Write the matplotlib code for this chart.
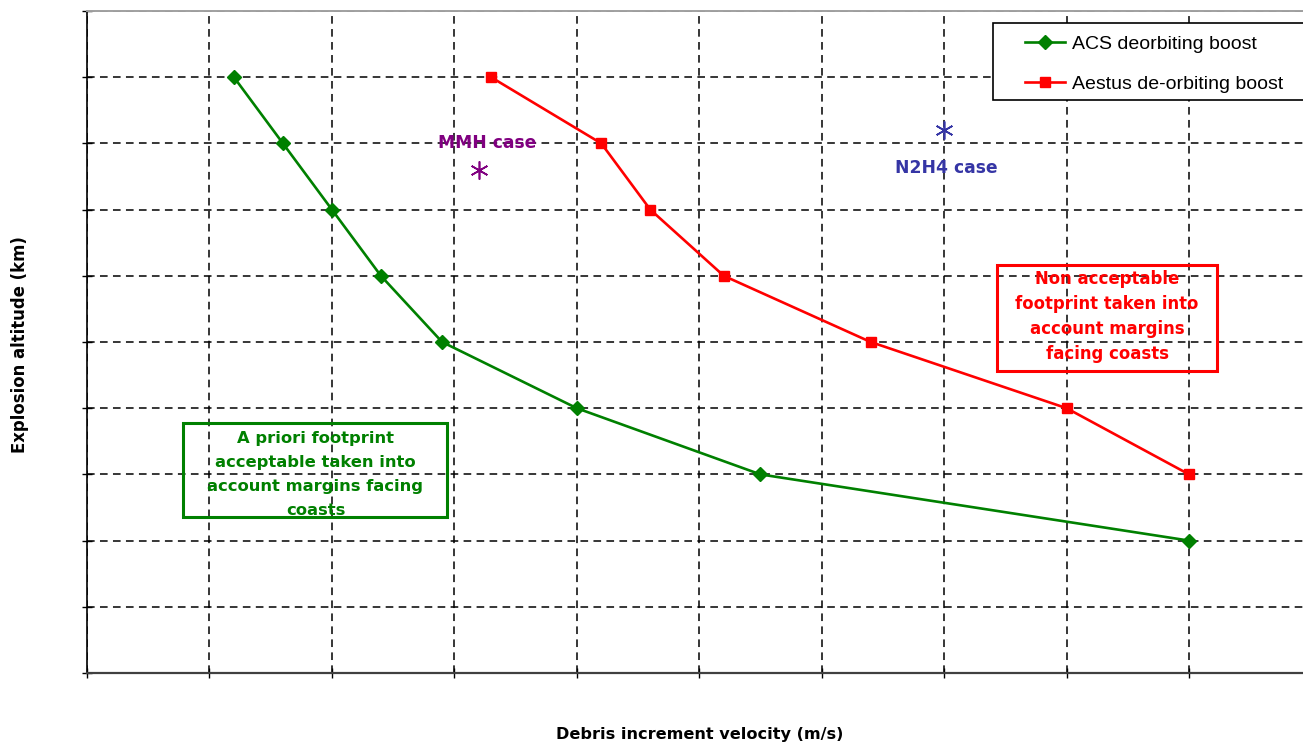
import matplotlib
matplotlib.use("Agg")
import matplotlib.pyplot as plt
from matplotlib.patches import Rectangle

plt.rcParams['font.family'] = ['Liberation Sans', 'DejaVu Sans']

# Data (grid units: no tick labels on original)
acs_x = [1.2, 1.6, 2.0, 2.4, 2.9, 4.0, 5.5, 9.0]
acs_y = [9, 8, 7, 6, 5, 4, 3, 2]
aestus_x = [3.3, 4.2, 4.6, 5.2, 6.4, 8.0, 9.0]
aestus_y = [9, 8, 7, 6, 5, 4, 3]
mmh_x, mmh_y = [3.2], [7.6]
n2h4_x, n2h4_y = [7.0], [8.2]
series_labels = ["ACS deorbiting boost", "Aestus de-orbiting boost"]
x_label = "Debris increment velocity (m/s)"
y_label = "Explosion altitude (km)"

GREEN = '#008000'
RED = '#ff0000'
PURPLE = '#800080'
BLUE = '#3535a5'
BOLDFONT = ['DejaVu Sans']

W, H = 1303, 743
fig = plt.figure(figsize=(W / 100, H / 100), dpi=100)
ax = fig.add_axes([87 / W, (H - 673) / H, 1224.5 / W, 662 / H])
ax.set_xlim(0, 10)
ax.set_ylim(0, 10)
ax.set_xticks(range(0, 11))
ax.set_yticks(range(0, 11))
ax.set_xticklabels([])
ax.set_yticklabels([])
ax.tick_params(axis='both', direction='inout', length=7, width=1, color='black')
ax.grid(True, color='black', linestyle=(0, (5, 3.5)), linewidth=1.1)
ax.set_axisbelow(True)
ax.spines['top'].set_color('#a0a0a0')
ax.spines['top'].set_linewidth(1.4)
ax.spines['left'].set_color('black')
ax.spines['left'].set_linewidth(1.2)
ax.spines['bottom'].set_color('#404040')
ax.spines['bottom'].set_linewidth(1.6)
ax.spines['right'].set_visible(False)

l1, = ax.plot(acs_x, acs_y, color=GREEN, lw=1.9, marker='D', markersize=7.5,
              label=series_labels[0], zorder=3)
l2, = ax.plot(aestus_x, aestus_y, color=RED, lw=1.9, marker='s', markersize=7,
              label=series_labels[1], zorder=3)

ax.plot(mmh_x, mmh_y, linestyle='none', marker=(6, 2, 0), markersize=13,
        markeredgewidth=1.2, color=PURPLE, zorder=3)
ax.plot(n2h4_x, n2h4_y, linestyle='none', marker=(6, 2, 0), markersize=13,
        markeredgewidth=1.2, color=BLUE, zorder=3)
ax.text(3.265, 8.0, "MMH case", color=PURPLE, fontsize=12.3, fontweight='bold',
        family=BOLDFONT, ha='center', va='center', zorder=4)
ax.text(7.02, 7.63, "N2H4 case", color=BLUE, fontsize=12.3, fontweight='bold',
        family=BOLDFONT, ha='center', va='center', zorder=4)

# Annotation boxes
ax.add_patch(Rectangle((0.786, 2.357), 2.152, 1.419, fill=False,
                       edgecolor=GREEN, lw=2.2, zorder=4))
ax.text(1.866, 3.0, "A priori footprint\nacceptable taken into\naccount margins facing\ncoasts",
        color=GREEN, fontsize=11.8, fontweight='bold', family=BOLDFONT,
        ha='center', va='center', linespacing=1.75, zorder=5)
ax.add_patch(Rectangle((7.43, 4.562), 1.80, 1.601, fill=False,
                       edgecolor=RED, lw=2.2, zorder=4))
ax.text(8.33, 5.385, "Non acceptable\nfootprint taken into\naccount margins\nfacing coasts",
        color=RED, fontsize=11.9, fontweight='bold', family=BOLDFONT,
        ha='center', va='center', linespacing=1.48, zorder=5)

# Legend
fig.patches.append(Rectangle((993 / W, 1 - 100 / H), 330 / W, 77 / H,
                             transform=fig.transFigure, facecolor='white',
                             edgecolor='black', lw=1.2, zorder=5))
leg = fig.legend(handles=[l1, l2], loc='upper left',
                 bbox_to_anchor=(1025 / W, 1 - 35 / H), frameon=False,
                 fontsize=14, handlelength=2.06, handletextpad=0.36,
                 labelspacing=1.18, borderaxespad=0, borderpad=0)
leg.set_zorder(6)

fig.text(700 / W, 1 - 734 / H, x_label, fontsize=11.6, fontweight='bold',
         family=BOLDFONT, ha='center', va='center')
fig.text(20 / W, 1 - 345 / H, y_label, fontsize=11.9, fontweight='bold',
         family=BOLDFONT, ha='center', va='center', rotation=90)

fig.savefig("out.png", dpi=100)
